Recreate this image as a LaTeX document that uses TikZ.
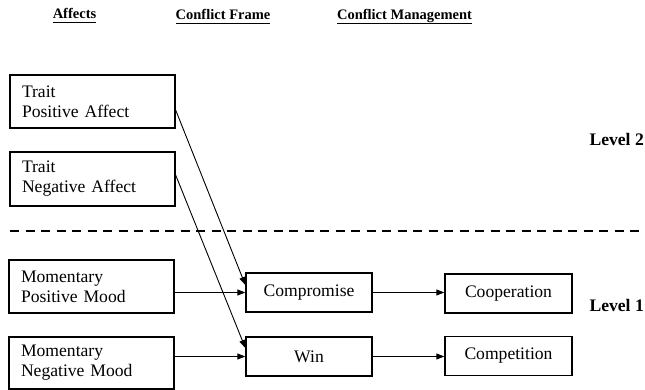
\documentclass[tikz,border=0pt]{standalone}
\usepackage{fontspec}
\setmainfont{Liberation Serif}
\usetikzlibrary{arrows.meta,calc}
\begin{document}
\begin{tikzpicture}[x=1pt,y=-1pt,
  box/.style={draw,line width=1.3pt,minimum width=#1,minimum height=39pt,inner sep=0pt,font=\fontsize{17.6}{20}\selectfont},
  lbox/.style={draw,line width=1.3pt,text width=141pt,inner xsep=12pt,inner ysep=0pt,minimum height=#1,align=left,font=\fontsize{17.6}{20}\selectfont},
  head/.style={font=\fontsize{14.5}{17}\selectfont\bfseries},
  lvl/.style={font=\fontsize{17.6}{20}\selectfont\bfseries,anchor=west},
  arr/.style={line width=0.9pt,-{Triangle[length=8pt,width=6pt]}}]
\useasboundingbox (0,0) rectangle (645,390);
\node[head] (h1) at (74.5,15.5) {\underline{Affects\vphantom{g}}};
\node[head] (h2) at (223,16.5) {\underline{Conflict Frame\vphantom{g}}};
\node[head] (h3) at (404.5,16.5) {\underline{Conflict Management}};
\node[lbox=53pt] (tpa) at (92.5,101.5) {Trait\\Positive Affect};
\node[lbox=54pt] (tna) at (92.5,179) {Trait\\Negative Affect};
\node[lbox=53pt] (mpm) at (91.5,286.5) {Momentary\\Positive Mood};
\node[lbox=52pt] (mnm) at (91.5,363) {Momentary\\Negative Mood};
\node[box=126pt] (comp) at (309,292.5) {Compromise};
\node[box=126pt] (win) at (309,356.5) {Win};
\node[box=127pt] (coop) at (508.5,293.5) {Cooperation};
\node[box=127pt] (cmpt) at (508.5,356) {Competition};
\node[lvl] (l2) at (586,139) {Level 2};
\node[lvl] (l1) at (586,305) {Level 1};
\coordinate (dl) at (10,231);
\coordinate (dr) at (645,231);
\draw[line width=1.3pt,dash pattern=on 9pt off 6.5pt] (dl) -- (dr);
\draw[arr] ($(tpa.east)+(0,8.5)$) -- ($(comp.west)+(0,-7.5)$);
\draw[arr] ($(tna.east)+(0,-4)$) -- ($(win.west)+(0,-8.5)$);
\draw[arr] (mpm.east |- comp.west) -- (comp.west);
\draw[arr] (mnm.east |- win.west) -- (win.west);
\draw[arr] (comp.east) -- (coop.west |- comp.east);
\draw[arr] (win.east) -- (cmpt.west |- win.east);
\end{tikzpicture}
\end{document}
